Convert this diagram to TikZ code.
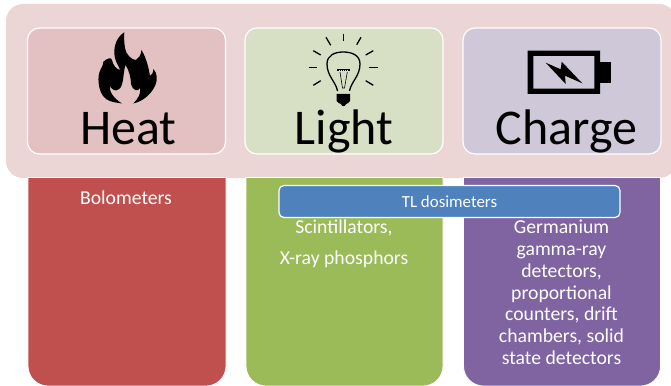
\documentclass[tikz,border=0pt]{standalone}
\usepackage{fontspec}
\setmainfont{Carlito}
\definecolor{panelpink}{HTML}{EBD5D5}
\definecolor{heatbg}{HTML}{E3C0C2}
\definecolor{lightbg}{HTML}{D7E0C5}
\definecolor{chargebg}{HTML}{CEC8D9}
\definecolor{redcol}{HTML}{C0504D}
\definecolor{greencol}{HTML}{9BBB59}
\definecolor{purplecol}{HTML}{8064A2}
\definecolor{tlblue}{HTML}{4F81BD}
\tikzset{
  topbox/.style={draw=white,line width=1.2pt,rounded corners=12pt,minimum width=198pt,minimum height=126pt,inner sep=0pt},
  column/.style={draw=white,line width=0.8pt},
  bigtext/.style={anchor=base,inner sep=0pt,font=\fontsize{50}{50}\selectfont},
  smalltext/.style={anchor=base,inner sep=0pt,text=white,font=\fontsize{19.7}{19.7}\selectfont},
  ray/.style={line width=1.3pt,black},
}
\begin{document}
\begin{tikzpicture}[x=1pt,y=-1pt]
\useasboundingbox (0,0) rectangle (671,385);
\fill[white] (0,0) rectangle (671,385);
% outer panel
\node[fill=panelpink,rounded corners=17pt,minimum width=670pt,minimum height=174pt,inner sep=0pt] (panel) at (341,91) {};
% columns
\path[column,fill=redcol] (28,177.5) -- (226,177.5) -- (226,300) [rounded corners=20pt] -- (226,386) -- (28,386) -- (28,300) [sharp corners] -- cycle;
\path[column,fill=greencol] (246,177.5) -- (443,177.5) -- (443,300) [rounded corners=20pt] -- (443,386) -- (246,386) -- (246,300) [sharp corners] -- cycle;
\path[column,fill=purplecol] (463.5,177.5) -- (660.5,177.5) -- (660.5,300) [rounded corners=20pt] -- (660.5,386) -- (463.5,386) -- (463.5,300) [sharp corners] -- cycle;
% top boxes
\node[topbox,fill=heatbg] (heatbox) at (126.5,91) {};
\node[topbox,fill=lightbg] (lightbox) at (344,91) {};
\node[topbox,fill=chargebg] (chargebox) at (562,91) {};
% flame
\fill[black,even odd rule]
  (124.3,32.3) .. controls (115,38) and (113,50) .. (115,58)
  .. controls (116,63) and (119,66) .. (120,70)
  .. controls (116,69) and (113,65) .. (112,60)
  .. controls (111,57) and (108,58) .. (103.5,61.5)
  .. controls (103,66) and (101,68) .. (99.5,72)
  .. controls (97,80) and (99,93) .. (105,98)
  .. controls (107,100) and (110,102) .. (122,103.5)
  .. controls (113,98) and (109,91) .. (110,86)
  .. controls (112,90) and (116,92) .. (119,89)
  .. controls (124,86) and (123,72) .. (125.5,65)
  .. controls (129,70) and (131,78) .. (131,84)
  .. controls (133,91) and (138,92) .. (140,88)
  .. controls (141,93) and (139,98) .. (133,103.5)
  .. controls (141,102) and (150,96) .. (155,86)
  .. controls (158,79) and (157,73) .. (153.5,69)
  .. controls (153,73) and (152,75) .. (150,76)
  .. controls (149,70) and (147,59) .. (141.5,50)
  .. controls (141,55) and (139,58) .. (136,60)
  .. controls (132,60) and (126,55) .. (125,48)
  .. controls (124,42) and (124,37) .. (124.3,32.3) -- cycle;
% bulb
\draw[ray] (343.3,33.7) -- (343.3,41.3);
\draw[ray] (326,37.3) -- (330.7,45.3);
\draw[ray] (356.7,44.7) -- (361,37.3);
\draw[ray] (313.3,50.7) -- (320.7,55);
\draw[ray] (365.7,55) -- (373.3,50.7);
\draw[ray] (308.7,67.7) -- (317.3,67.7);
\draw[ray] (369.3,67.7) -- (378.3,67.7);
\draw[ray] (313.3,85.3) -- (320.7,80.7);
\draw[ray] (365.7,80.7) -- (373.3,85.3);
\draw[line width=1.3pt,black] (337.5,91) .. controls (336,82) and (327,76) .. (327,64)
  .. controls (327,55) and (335,52) .. (343.3,52)
  .. controls (351.5,52) and (360,55) .. (360,64)
  .. controls (360,76) and (351,82) .. (349.5,91);
\draw[line width=0.7pt,black] (337.3,69) -- (349.5,69);
\draw[line width=1.2pt,black,densely dotted] (337.3,70) -- (349.5,70);
\draw[line width=0.6pt,black] (340,72) -- (342.5,88) -- (344.5,88) -- (347.3,72);
\fill[black] (336.7,94) -- (350,94) -- (350,101) .. controls (350,103) and (347,103) .. (346,104)
  .. controls (345,107) and (342,107) .. (341,104) .. controls (340,103) and (336.7,103) .. (336.7,101) -- cycle;
% battery
\fill[black,even odd rule] (527.7,50.7) rectangle (600,94) (533.3,56) rectangle (594.3,88.7);
\fill[black] (600,61.7) rectangle (611.3,83.3);
\fill[black] (545.7,62.7) -- (560.7,69.3) -- (561.7,61.7) -- (582.3,83.3) -- (565,75.7) -- (565.7,84) -- cycle;
% big labels
\node[bigtext] (heat) at (128.5,144) {Heat};
\node[bigtext] (light) at (344,144) {Light};
\node[bigtext] (charge) at (566.5,144) {Charge};
% column labels
\node[smalltext] (bolo) at (126,204.5) {Bolometers};
\node[smalltext] (scint) at (344,233.5) {Scintillators,};
\node[smalltext] (xray) at (344,264.5) {X-ray phosphors};
\node[smalltext] (g1) at (561.5,233.5) {Germanium};
\node[smalltext] (g2) at (561.5,255) {gamma-ray};
\node[smalltext] (g3) at (561.5,277) {detectors,};
\node[smalltext] (g4) at (561.5,299) {proportional};
\node[smalltext] (g5) at (561.5,320.5) {counters, drift};
\node[smalltext] (g6) at (561.5,342) {chambers, solid};
\node[smalltext] (g7) at (561.5,364) {state detectors};
% TL bar
\node[draw=white,line width=1.2pt,fill=tlblue,rounded corners=5pt,minimum width=341pt,minimum height=32pt,inner sep=0pt,text=white,font=\fontsize{16.9}{16.9}\selectfont] (tl) at (449.5,201.5) {TL dosimeters};
\end{tikzpicture}
\end{document}
